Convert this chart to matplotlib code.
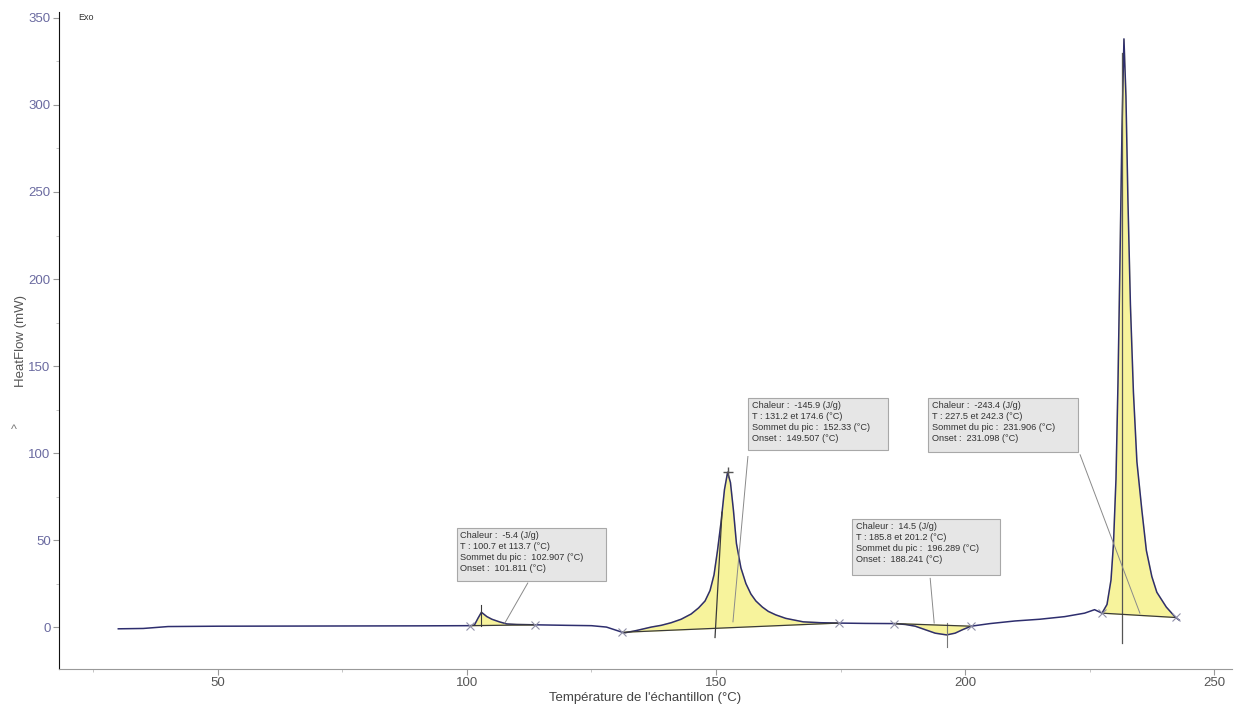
import matplotlib.pyplot as plt
from matplotlib.patches import Rectangle
from matplotlib.ticker import MultipleLocator
import numpy as np

# DSC scan: sample temperature (°C) vs heat flow (mW)
temp = [30, 35, 40, 50, 70, 90, 100, 100.7, 101.5, 102.2, 102.9, 104, 105,
        106.5, 108, 110, 113.7, 120, 125, 128, 131.2, 131.7, 134, 137, 139,
        141, 143, 145, 146.5, 147.8, 148.8, 149.6, 150.3, 151, 151.7, 152.33,
        152.9, 153.5, 154.1, 155, 156, 157, 158, 159.3, 160.5, 162, 164,
        167.5, 171, 174.6, 180, 185.8, 188, 190, 192, 194, 196.3, 198, 199.5,
        201.2, 205, 210, 215, 220, 224, 226, 227.5, 228.5, 229.3, 229.8,
        230.3, 230.7, 231.1, 231.5, 231.9, 232.3, 232.7, 233.2, 233.8, 234.5,
        235.5, 236.4, 237.5, 238.5, 240.4, 241.8, 242.3, 243]
heat = [-1, -0.8, 0.3, 0.5, 0.6, 0.7, 0.8, 0.8, 1.2, 5, 8.5, 6, 4.5,
        3, 1.8, 1.5, 1.3, 1, 0.8, 0, -3, -3.3, -2, 0, 1,
        2.5, 4.5, 7.5, 11, 15, 21, 30, 44, 60, 79, 89,
        83, 67, 48, 34, 25, 19, 15, 11.5, 9, 7, 5,
        3, 2.5, 2.3, 2.1, 2, 1.5, 0.5, -1.5, -3.5, -4.5, -3.5, -1.5,
        0.5, 2, 3.5, 4.5, 6, 8, 10, 8, 13, 27, 48,
        85, 140, 210, 285, 338, 305, 245, 185, 135, 95,
        67, 44, 29, 20, 11.5, 7, 5.5, 4]

# integration limits of each peak (°C)
limits = [(100.7, 113.7), (131.2, 174.6), (185.8, 201.2), (227.5, 242.3)]

# peak results
chaleur = ["-5.4", "-145.9", "14.5", "-243.4"]
t_range = ["100.7 et 113.7", "131.2 et 174.6", "185.8 et 201.2", "227.5 et 242.3"]
sommet = ["102.907", "152.33", "196.289", "231.906"]
onset = ["101.811", "149.507", "188.241", "231.098"]

# box corners (x0, y0, x1, y1) and leader line ends (box end, peak end)
boxes = [(97.9, 26.4, 128.0, 56.9), (156.4, 101.7, 184.5, 131.6),
         (177.3, 29.9, 207.0, 62.1), (192.6, 100.6, 222.7, 131.6)]
leaders = [((112.2, 25.3), (107.6, 2.3)), ((156.4, 98), (153.4, 3)),
           ((193.0, 28), (193.8, 2.3)), ((223.1, 99), (235.1, 8))]

temp = np.array(temp)
heat = np.array(heat)

plt.rcParams['font.family'] = ['Liberation Sans', 'DejaVu Sans']
fig = plt.figure(figsize=(12.35, 7.09), dpi=100)
ax = fig.add_axes([0.0478, 0.0564, 0.9498, 0.9266])

# shaded peak areas closed by the straight baseline
for lo, hi in limits:
    m = (temp >= lo) & (temp <= hi)
    ax.fill(temp[m], heat[m], color='#f7f39c', zorder=1)
    ax.plot([lo, hi], [heat[temp == lo][0], heat[temp == hi][0]],
            color='#3a3a3a', lw=0.9, zorder=3)
    ax.plot([lo, hi], [heat[temp == lo][0], heat[temp == hi][0]], 'x',
            color='#9090a8', ms=6, mew=0.8, zorder=4)

ax.plot(temp, heat, color='#2e2e6e', lw=1.1, zorder=2)

# tangent / peak marker lines
ax.plot([102.9, 102.9], [0.8, 12.6], color='#3a3a3a', lw=0.8)
ax.plot([149.8, 151.2], [-6, 66], color='#3a3a3a', lw=0.9)
ax.plot([196.3, 196.3], [-11.5, 2.3], color='#777777', lw=0.8)
ax.plot([231.5, 231.5], [-9, 330], color='#555555', lw=0.9)
ax.plot([152.33], [89], '+', color='#555555', ms=7)

# result boxes
for i, (x0, y0, x1, y1) in enumerate(boxes):
    ax.add_patch(Rectangle((x0, y0), x1 - x0, y1 - y0, facecolor='#e6e6e6',
                           edgecolor='#a8a8a8', lw=0.8, zorder=5))
    txt = (f"Chaleur :  {chaleur[i]} (J/g)\n"
           f"T : {t_range[i]} (°C)\n"
           f"Sommet du pic :  {sommet[i]} (°C)\n"
           f"Onset :  {onset[i]} (°C)")
    ax.text(x0 + 0.8, y1 - 1.5, txt, fontsize=6.6, color='#333333',
            va='top', ha='left', linespacing=1.3, zorder=6)
    (bx, by), (px, py) = leaders[i]
    ax.plot([bx, px], [by, py], color='#8a8a8a', lw=0.7, zorder=4)

ax.set_xlim(18.1, 253.6)
ax.set_ylim(-24.1, 353.4)
ax.xaxis.set_major_locator(MultipleLocator(50))
ax.xaxis.set_minor_locator(MultipleLocator(25))
ax.yaxis.set_major_locator(MultipleLocator(50))
ax.yaxis.set_minor_locator(MultipleLocator(25))
ax.tick_params(axis='x', which='major', length=4, color='#999999',
               labelcolor='#555555', labelsize=9.5, pad=2)
ax.tick_params(axis='y', which='major', length=4, color='#999999',
               labelcolor='#6a6aa0', labelsize=9.5, pad=2)
ax.tick_params(which='minor', length=2, color='#bbbbbb')

for s in ['top', 'right']:
    ax.spines[s].set_visible(False)
ax.spines['left'].set_color('#111111')
ax.spines['bottom'].set_color('#999999')

ax.set_xlabel("Température de l'échantillon (°C)", fontsize=9.5,
              color='#444444', labelpad=2)
ax.set_ylabel("HeatFlow (mW)", fontsize=9.5, color='#555555', labelpad=1)
ax.text(21.9, 350, "Exo", fontsize=6.5, color='#333333', va='center')
fig.text(14 / 1235, 1 - 430 / 709, "^", fontsize=9, color='#777777',
         ha='center', va='center')

fig.savefig("out.png", dpi=100)
